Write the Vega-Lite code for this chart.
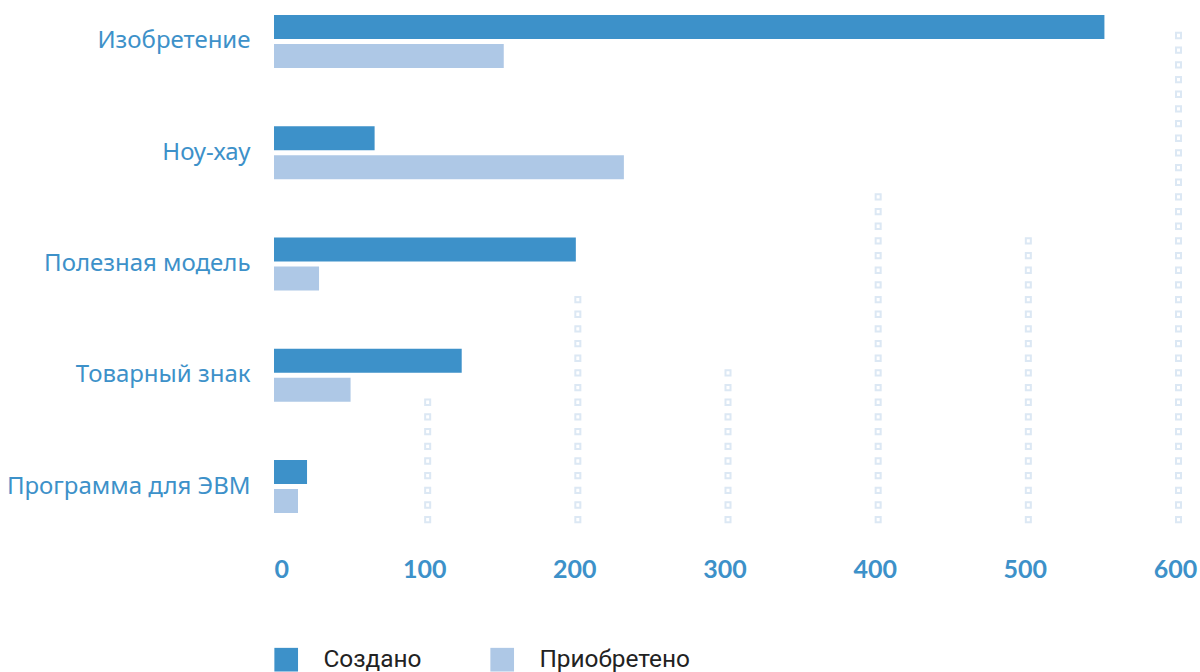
{
  "$schema": "https://vega.github.io/schema/vega-lite/v6.json",
  "width": 901,
  "height": 528,
  "autosize": "none",
  "padding": {"left": 274, "top": 0, "right": 25, "bottom": 144},
  "background": "white",
  "config": {"view": {"stroke": null}},
  "datasets": {
    "bars": [
      {"cat": "Изобретение", "type": "Создано", "value": 553},
      {"cat": "Изобретение", "type": "Приобретено", "value": 153},
      {"cat": "Ноу-хау", "type": "Создано", "value": 67},
      {"cat": "Ноу-хау", "type": "Приобретено", "value": 233},
      {"cat": "Полезная модель", "type": "Создано", "value": 201},
      {"cat": "Полезная модель", "type": "Приобретено", "value": 30},
      {"cat": "Товарный знак", "type": "Создано", "value": 125},
      {"cat": "Товарный знак", "type": "Приобретено", "value": 51},
      {"cat": "Программа для ЭВМ", "type": "Создано", "value": 22},
      {"cat": "Программа для ЭВМ", "type": "Приобретено", "value": 16}
    ],
    "grid": [
      {"value": 100, "b": 0, "n": 9},
      {"value": 200, "b": 0, "n": 16},
      {"value": 300, "b": 0, "n": 11},
      {"value": 400, "b": 0, "n": 23},
      {"value": 500, "b": 0, "n": 20},
      {"value": 600, "b": 0, "n": 34}
    ]
  },
  "layer": [
    {
      "data": {"name": "grid"},
      "mark": {"type": "rule", "color": "#dce8f4", "strokeWidth": 7, "strokeDash": [7.33, 7.34], "xOffset": 3.5},
      "encoding": {
        "x": {"field": "value", "type": "quantitative", "scale": {"domain": [0, 600], "nice": false, "zero": true}},
        "y": {"field": "b", "type": "quantitative", "scale": {"domain": [-0.32, 35.68], "nice": false, "zero": false}, "axis": null},
        "y2": {"field": "n"}
      }
    },
    {
      "data": {"name": "grid"},
      "mark": {"type": "rule", "color": "#ffffff", "strokeWidth": 3, "strokeDash": [3.33, 11.34], "strokeDashOffset": 12.67, "xOffset": 3.5},
      "encoding": {
        "x": {"field": "value", "type": "quantitative"},
        "y": {"field": "b", "type": "quantitative", "scale": {"domain": [-0.32, 35.68], "nice": false, "zero": false}, "axis": null},
        "y2": {"field": "n"}
      }
    },
    {
      "data": {"name": "bars"},
      "mark": {"type": "bar"},
      "encoding": {
        "x": {
          "field": "value",
          "type": "quantitative",
          "axis": {
            "title": null,
            "values": [0, 100, 200, 300, 400, 500, 600],
            "grid": false,
            "domain": false,
            "ticks": false,
            "labelFont": "Lato",
            "labelFontWeight": "bold",
            "labelFontSize": 25,
            "labelColor": "#3d91c9",
            "labelPadding": 29,
            "labelAlign": {"condition": {"test": "datum.value === 0", "value": "left"}, "value": "center"}
          }
        },
        "y": {
          "field": "cat",
          "type": "nominal",
          "sort": ["Изобретение", "Ноу-хау", "Полезная модель", "Товарный знак", "Программа для ЭВМ"],
          "scale": {"paddingInner": 0.5236, "paddingOuter": 0.1348},
          "axis": {
            "title": null,
            "domain": false,
            "ticks": false,
            "labelFont": "Noto Sans",
            "labelFontSize": 24,
            "labelColor": "#3d91c9",
            "labelPadding": 24,
            "labelLimit": 400
          }
        },
        "yOffset": {
          "field": "type",
          "type": "nominal",
          "sort": ["Создано", "Приобретено"],
          "scale": {"paddingInner": 0.1724, "paddingOuter": 0}
        },
        "color": {
          "field": "type",
          "type": "nominal",
          "sort": ["Создано", "Приобретено"],
          "scale": {"domain": ["Создано", "Приобретено"], "range": ["#3d91c9", "#aec8e6"]},
          "legend": {
            "title": null,
            "orient": "none",
            "legendX": 0,
            "legendY": 647,
            "direction": "horizontal",
            "symbolType": "square",
            "symbolSize": 560,
            "symbolStrokeWidth": 0,
            "symbolOpacity": 1,
            "labelFont": "Roboto",
            "labelFontSize": 24.4,
            "labelColor": "#222222",
            "labelOffset": 25,
            "columnPadding": 68,
            "padding": 0
          }
        }
      }
    }
  ],
  "resolve": {"scale": {"y": "independent"}}
}
